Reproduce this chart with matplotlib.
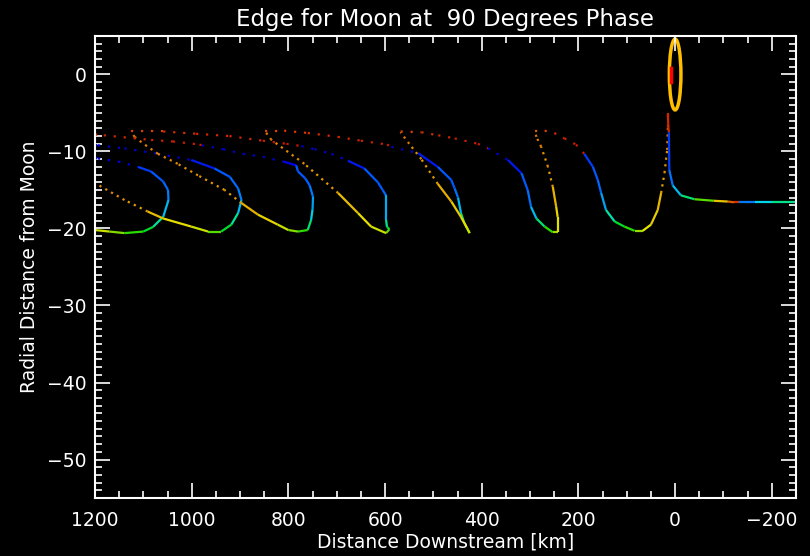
import numpy as np
import matplotlib.pyplot as plt
from matplotlib.collections import LineCollection
from matplotlib.colors import LinearSegmentedColormap
from matplotlib.patches import Ellipse
from matplotlib.ticker import MultipleLocator

# edge points: distance downstream [km], radial distance,
# and the colour phase (0 = blue ... 0.6 = yellow ... 1 = red)
loop1_x = [1200, 1194, 1152, 1111, 1084, 1059, 1049, 1048, 1059, 1080, 1100, 1139, 1170, 1200]
loop1_y = [-10.85, -10.9, -11.3, -12.0, -12.6, -13.9, -15.0, -16.3, -18.5, -19.8, -20.4, -20.6, -20.4, -20.2]
loop1_p = [0.05, 0.05, 0.05, 0.12, 0.15, 0.15, 0.18, 0.2, 0.3, 0.4, 0.45, 0.5, 0.55, 0.6]

loop2_x = [1200, 1194, 1139, 1070, 1001, 953, 921, 904, 897, 904, 918, 939, 966, 1001, 1059, 1091, 1139, 1200]
loop2_y = [-9.15, -9.2, -9.6, -10.3, -11.1, -12.2, -13.3, -14.8, -16.3, -18.0, -19.5, -20.4, -20.4, -19.75, -18.7, -17.8, -16.3, -14.1]
loop2_p = [0.05, 0.05, 0.05, 0.05, 0.08, 0.15, 0.15, 0.18, 0.2, 0.3, 0.4, 0.45, 0.55, 0.6, 0.62, 0.7, 0.72, 0.75]

loop3_x = [1200, 1182, 1084, 1039, 984, 979, 935, 894, 853, 811, 784, 780, 765, 756, 749, 750, 753, 760,
           780, 800, 822, 863, 897, 932, 987, 1029, 1070, 1104, 1118, 1125]
loop3_y = [-7.8, -7.9, -8.5, -8.7, -9.1, -9.2, -9.7, -10.3, -10.7, -11.3, -11.8, -12.6, -13.5, -14.4, -15.9, -17.5, -18.9, -20.2,
           -20.4, -20.2, -19.5, -18.2, -16.7, -15.0, -13.1, -11.6, -10.3, -8.8, -8.1, -7.5]
loop3_p = [0.92, 0.92, 0.93, 0.93, 0.95, 0.03, 0.05, 0.05, 0.05, 0.06, 0.15, 0.15, 0.15, 0.17, 0.2, 0.25, 0.3, 0.45,
           0.5, 0.55, 0.6, 0.65, 0.7, 0.72, 0.73, 0.74, 0.75, 0.76, 0.78, 0.8]

loop4_x = [1125, 1059, 991, 922, 853, 804, 773, 746, 711, 677, 643, 615, 605, 598, 598, 596, 591, 598,
           629, 656, 697, 767, 835, 848]
loop4_y = [-7.4, -7.4, -7.7, -8.0, -8.6, -9.0, -9.3, -9.7, -10.3, -11.2, -12.2, -14.0, -15.0, -15.7, -18.9, -19.8, -20.1, -20.6,
           -19.75, -18.0, -15.4, -11.6, -8.5, -7.4]
loop4_p = [0.85, 0.9, 0.92, 0.92, 0.93, 0.95, 0.03, 0.05, 0.05, 0.08, 0.15, 0.15, 0.15, 0.18, 0.3, 0.4, 0.45, 0.55,
           0.6, 0.62, 0.7, 0.72, 0.75, 0.8]

loop5_x = [848, 809, 760, 698, 650, 596, 587, 532, 491, 463, 456, 449, 443, 436, 425, 430, 443, 463, 491, 525, 550, 568]
loop5_y = [-7.3, -7.3, -7.6, -8.1, -8.6, -9.1, -9.4, -10.2, -12.0, -13.7, -14.8, -16.0, -18.0, -19.3, -20.6, -20.0, -18.5, -16.5, -14.2, -11.0, -9.0, -7.5]
loop5_p = [0.85, 0.88, 0.9, 0.92, 0.93, 0.95, 0.03, 0.08, 0.15, 0.15, 0.15, 0.2, 0.3, 0.45, 0.55, 0.6, 0.62, 0.66, 0.7, 0.72, 0.75, 0.8]

loop6_x = [568, 525, 490, 456, 408, 387, 346, 318, 305, 298, 287, 270, 253, 243, 243, 246, 253, 263, 277, 287, 290]
loop6_y = [-7.4, -7.5, -7.9, -8.3, -9.0, -9.6, -11.1, -12.8, -15.0, -17.2, -18.7, -19.75, -20.5, -20.5, -18.5, -17.2, -14.6, -12.0, -9.4, -8.1, -7.3]
loop6_p = [0.85, 0.9, 0.92, 0.93, 0.95, 0.03, 0.08, 0.15, 0.15, 0.2, 0.3, 0.45, 0.5, 0.58, 0.6, 0.65, 0.7, 0.72, 0.74, 0.77, 0.8]

loop7_x = [290, 270, 250, 229, 205, 188, 170, 160, 153, 143, 125, 105, 84, 67, 50, 36, 29, 22, 16.5, 15, 15]
loop7_y = [-7.3, -7.3, -7.6, -8.3, -9.1, -10.3, -12.0, -13.7, -15.4, -17.6, -19.1, -19.75, -20.3, -20.3, -19.5, -17.6, -15.4, -12.8, -9.8, -6.8, -5.0]
loop7_p = [0.8, 0.85, 0.9, 0.93, 0.95, 0.12, 0.15, 0.15, 0.18, 0.28, 0.4, 0.45, 0.5, 0.58, 0.62, 0.65, 0.68, 0.72, 0.74, 0.8, 0.9]

tail_x = [15, 14, 13, 12, 5, -12, -40, -80, -109, -122, -132, -165, -200, -250]
tail_y = [-5.0, -6.8, -7.5, -12.4, -14.4, -15.7, -16.2, -16.4, -16.5, -16.6, -16.6, -16.6, -16.6, -16.6]
tail_p = [0.92, 0.92, 0.12, 0.15, 0.2, 0.3, 0.45, 0.55, 0.75, 0.9, 0.12, 0.25, 0.32, 0.4]

loops = [(loop1_x, loop1_y, loop1_p), (loop2_x, loop2_y, loop2_p), (loop3_x, loop3_y, loop3_p),
         (loop4_x, loop4_y, loop4_p), (loop5_x, loop5_y, loop5_p), (loop6_x, loop6_y, loop6_p),
         (loop7_x, loop7_y, loop7_p)]

# moon outline
moon_x, moon_y = 0, 0
moon_width, moon_height = 24, 9.2

cmap = LinearSegmentedColormap.from_list("idl_rainbow", [
    (0.0, "#0000be"), (0.1, "#0000e6"), (0.15, "#005aff"), (0.3, "#00e6e6"),
    (0.45, "#00dc00"), (0.55, "#aadc00"), (0.6, "#e6e600"), (0.7, "#e6a000"),
    (0.8, "#e06a00"), (0.9, "#d83200"), (1.0, "#be0000")])


def draw_edge(ax, xs, ys, ph, sparse=True):
    pts = np.column_stack([xs, ys])
    segs = np.stack([pts[:-1], pts[1:]], axis=1)
    ph = np.asarray(ph, dtype=float)
    mid = (ph[:-1] + ph[1:]) / 2
    jump = np.abs(ph[1:] - ph[:-1]) > 0.5
    mid[jump] = ph[:-1][jump]
    none = np.zeros(len(mid), bool)
    tight = ((mid >= 0.68) & (mid < 0.82)) if sparse else none
    loose = ((mid < 0.1) | (mid >= 0.82)) if sparse else none
    solid = ~(tight | loose)
    ax.add_collection(LineCollection(segs[solid], colors=cmap(mid[solid]), linewidths=1.6))
    ax.add_collection(LineCollection(segs[tight], colors=cmap(mid[tight]), linewidths=1.6,
                                     linestyles=[(0, (1, 2))]))
    ax.add_collection(LineCollection(segs[loose], colors=cmap(mid[loose]), linewidths=1.6,
                                     linestyles=[(0, (1, 3.5))]))


fig = plt.figure(figsize=(8.1, 5.56), dpi=100, facecolor="black")
ax = fig.add_axes([0.1173, 0.1043, 0.8654, 0.831])
ax.set_facecolor("black")

for xs, ys, ph in loops:
    draw_edge(ax, xs, ys, ph)
draw_edge(ax, tail_x, tail_y, tail_p, sparse=False)

ax.add_patch(Ellipse((moon_x, moon_y), moon_width, moon_height, fill=False,
                     edgecolor="#ffbe00", linewidth=2.5))
ax.plot([8, 8], [0.8, -1.0], color="#ff0000", linewidth=2.5)

ax.set_xlim(1200, -250)
ax.set_ylim(-55, 5)

ax.xaxis.set_major_locator(MultipleLocator(200))
ax.xaxis.set_minor_locator(MultipleLocator(50))
ax.yaxis.set_major_locator(MultipleLocator(10))
ax.yaxis.set_minor_locator(MultipleLocator(1))
ax.tick_params(which="both", direction="in", top=True, right=True,
               colors="white", labelsize=13.5, width=1.2)
ax.tick_params(which="major", length=11)
ax.tick_params(which="minor", length=5)
ax.tick_params(axis="x", pad=9)
ax.tick_params(axis="y", pad=6)
for sp in ax.spines.values():
    sp.set_color("white")
    sp.set_linewidth(1.5)

ax.set_xlabel("Distance Downstream [km]", color="white", fontsize=13.5, labelpad=2)
ax.set_ylabel("Radial Distance from Moon", color="white", fontsize=13.5, labelpad=6)
ax.set_title("Edge for Moon at  90 Degrees Phase", color="white", fontsize=16.5, pad=7)

fig.savefig("out.png", dpi=100, facecolor="black")
